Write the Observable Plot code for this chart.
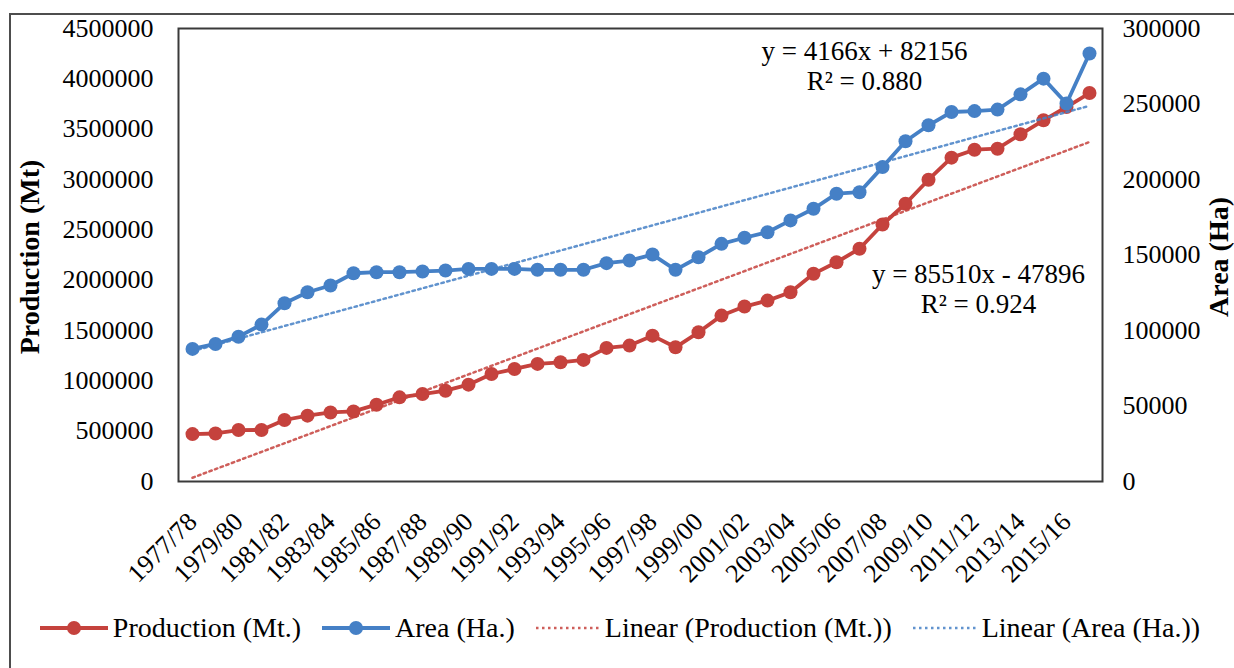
<!DOCTYPE html>
<html>
<head>
<meta charset="utf-8">
<script src="https://cdn.jsdelivr.net/npm/d3@7"></script>
<script src="https://cdn.jsdelivr.net/npm/@observablehq/plot@0.6"></script>
<style>
  html, body { margin: 0; padding: 0; background: #fff; }
  body { width: 1234px; height: 668px; overflow: hidden; position: relative;
         font-family: "Liberation Serif", "Times New Roman", serif; }
  #chart svg { display: block; background: #fff; overflow: visible; }
  #border { position: absolute; left: 9px; top: 13px; width: 1400px; height: 900px;
            border: 2px solid #4d4d4d; box-sizing: border-box; pointer-events: none; }
  #legend { position: absolute; left: 0; top: 611px; width: 1240px; height: 34px;
            display: flex; justify-content: center; align-items: center; gap: 21px;
            font-size: 28px; color: #000; white-space: nowrap; }
  #legend .item { display: flex; align-items: center; gap: 5px; }
  #legend svg { display: block; }
</style>
</head>
<body>
<div id="chart"></div>
<div id="legend"></div>
<div id="border"></div>
<script>
// Crop seasons, 1977/78 to 2016/17
const seasons = [
  "1977/78","1978/79","1979/80","1980/81","1981/82","1982/83","1983/84","1984/85",
  "1985/86","1986/87","1987/88","1988/89","1989/90","1990/91","1991/92","1992/93",
  "1993/94","1994/95","1995/96","1996/97","1997/98","1998/99","1999/00","2000/01",
  "2001/02","2002/03","2003/04","2004/05","2005/06","2006/07","2007/08","2008/09",
  "2009/10","2010/11","2011/12","2012/13","2013/14","2014/15","2015/16","2016/17"
];

// Seasons shown on the category axis
const seasonTicks = [
  "1977/78","1979/80","1981/82","1983/84","1985/86","1987/88","1989/90","1991/92",
  "1993/94","1995/96","1997/98","1999/00","2001/02","2003/04","2005/06","2007/08",
  "2009/10","2011/12","2013/14","2015/16"
];

// Production (Mt.), left axis
const production = [
  471000, 477000, 511000, 512000, 611000, 654000, 686000, 696000, 763000, 836000,
  869000, 902000, 962000, 1068000, 1118000, 1168000, 1184000, 1208000, 1327000, 1350000,
  1449000, 1333000, 1482000, 1648000, 1738000, 1797000, 1880000, 2063000, 2178000, 2312000,
  2553000, 2759000, 2998000, 3217000, 3296000, 3306000, 3449000, 3588000, 3720000, 3859000
];

// Area (Ha.), right axis
const area = [
  87800, 91100, 95900, 103900, 118000, 125300, 129800, 137900, 138600, 138600,
  139100, 139700, 140800, 140800, 140800, 140200, 140200, 140200, 144600, 146300,
  150300, 140200, 148500, 157400, 161400, 165100, 172900, 180600, 190600, 191600,
  208200, 225300, 235900, 244700, 245300, 246300, 256400, 266800, 250300, 283400
];

// Linear trend fits (x = season number, 1..40)
const prodSlope = 85510, prodIntercept = -47896, prodR2 = 0.924;
const areaSlope = 4166, areaIntercept = 82156, areaR2 = 0.880;

// Axis ticks
const prodTicks = [0, 500000, 1000000, 1500000, 2000000, 2500000, 3000000, 3500000, 4000000, 4500000];
const areaTicks = [0, 50000, 100000, 150000, 200000, 250000, 300000];

const prodMax = 4500000, areaMax = 300000;
const k = prodMax / areaMax; // secondary axis mapped onto the primary scale

const red = "#c5423d";
const blue = "#4580c6";
const serif = "Liberation Serif";

const prodData = seasons.map((s, i) => ({season: s, value: production[i]}));
const areaData = seasons.map((s, i) => ({season: s, value: area[i] * k}));

const ends = [0, seasons.length - 1];
const prodTrend = ends.map(i => ({season: seasons[i], value: prodSlope * (i + 1) + prodIntercept}));
const areaTrend = ends.map(i => ({season: seasons[i], value: (areaSlope * (i + 1) + areaIntercept) * k}));

const fmtSigned = v => (v < 0 ? "- " : "+ ") + Math.abs(v);

const txt = {fontFamily: serif, fill: "#000"};

const chart = Plot.plot({
  width: 1234,
  height: 605,
  marginLeft: 178,
  marginRight: 132,
  marginTop: 28,
  marginBottom: 124,
  style: {fontFamily: serif, fontSize: "26px", color: "#000", background: "#fff"},
  x: {type: "point", domain: seasons, padding: 0.5, align: 0.5},
  y: {domain: [0, prodMax]},
  marks: [
    Plot.axisY({ticks: prodTicks, tickFormat: d => String(d), tickSize: 0, tickPadding: 25,
                fontSize: 26, fontFamily: serif, label: null}),
    Plot.axisY({anchor: "right", ticks: areaTicks.map(v => v * k), tickFormat: d => String(Math.round(d / k)),
                tickSize: 0, tickPadding: 20, fontSize: 26, fontFamily: serif, textAnchor: "start", label: null}),
    Plot.axisX({ticks: seasonTicks, tickRotate: -45, tickSize: 0, tickPadding: 36,
                fontSize: 26, fontFamily: serif, label: null}),
    // Production series and its trend
    Plot.line(prodData, {x: "season", y: "value", stroke: red, strokeWidth: 3.8}),
    Plot.dot(prodData, {x: "season", y: "value", r: 7, fill: red}),
    Plot.line(prodTrend, {x: "season", y: "value", stroke: red, strokeWidth: 2.5,
                          strokeDasharray: "2.5,3.5", strokeOpacity: 0.85}),
    // Area series and its trend
    Plot.line(areaData, {x: "season", y: "value", stroke: blue, strokeWidth: 3.8}),
    Plot.dot(areaData, {x: "season", y: "value", r: 7, fill: blue}),
    Plot.line(areaTrend, {x: "season", y: "value", stroke: blue, strokeWidth: 2.5,
                          strokeDasharray: "2.5,3.5", strokeOpacity: 0.85}),
    // Trend equations
    Plot.text([`y = ${areaSlope}x ${fmtSigned(areaIntercept)}\nR² = ${areaR2.toFixed(3)}`],
              {...txt, x: () => "2006/07", frameAnchor: "top", lineAnchor: "middle", dx: 5, dy: 37,
               text: d => d, fontSize: 27, lineHeight: 1.12}),
    Plot.text([`y = ${prodSlope}x ${fmtSigned(prodIntercept)}\nR² = ${prodR2.toFixed(3)}`],
              {...txt, x: () => "2011/12", frameAnchor: "top", lineAnchor: "middle", dx: 4, dy: 260,
               text: d => d, fontSize: 27, lineHeight: 1.12}),
    // Axis titles
    Plot.text(["Production (Mt)"], {...txt, frameAnchor: "left", textAnchor: "middle", dx: -148, dy: 2,
              rotate: -90, text: d => d, fontSize: 28, fontWeight: "bold"}),
    Plot.text(["Area (Ha)"], {...txt, frameAnchor: "right", textAnchor: "middle", dx: 117, dy: 2,
              rotate: -90, text: d => d, fontSize: 28, fontWeight: "bold"}),
    Plot.frame({stroke: "#3a3a3a", strokeWidth: 2})
  ]
});
chart.setAttribute("font-family", serif);
document.getElementById("chart").append(chart);

// Legend below the plot
const legendItems = [
  {label: "Production (Mt.)", color: red, dotted: false},
  {label: "Area (Ha.)", color: blue, dotted: false},
  {label: "Linear (Production (Mt.))", color: red, dotted: true},
  {label: "Linear (Area (Ha.))", color: blue, dotted: true}
];
const legend = d3.select("#legend");
for (const it of legendItems) {
  const item = legend.append("div").attr("class", "item");
  const w = it.dotted ? 64 : 68;
  const sw = item.append("svg").attr("width", w).attr("height", 20);
  sw.append("line").attr("x1", 0).attr("x2", w).attr("y1", 10).attr("y2", 10)
    .attr("stroke", it.color)
    .attr("stroke-width", it.dotted ? 2.5 : 3.8)
    .attr("stroke-dasharray", it.dotted ? "2.5,3.5" : null)
    .attr("stroke-opacity", it.dotted ? 0.85 : 1);
  if (!it.dotted) sw.append("circle").attr("cx", w / 2).attr("cy", 10).attr("r", 7).attr("fill", it.color);
  item.append("span").text(it.label);
}
</script>
</body>
</html>
